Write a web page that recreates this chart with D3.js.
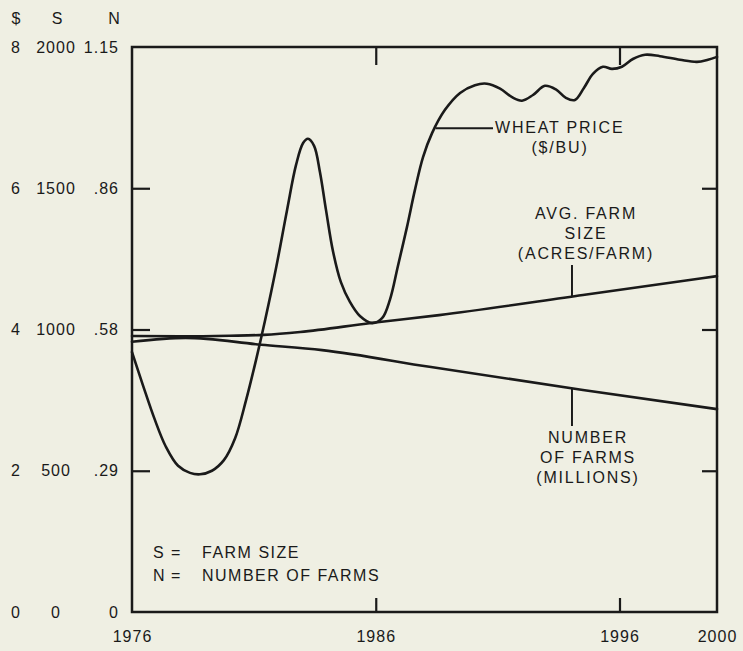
<!DOCTYPE html>
<html>
<head>
<meta charset="utf-8">
<script src="https://cdn.jsdelivr.net/npm/d3@7/dist/d3.min.js"></script>
<style>
  body { margin: 0; background: #efefe3; }
  svg { display: block; }
  text { font-family: "Liberation Sans", Arial, sans-serif; fill: #1a1a1a; }
</style>
</head>
<body>
<svg id="chart" width="743" height="651"></svg>
<script>
// DATA

// wheat price, $/bu
const wheatYears = [1976, 1976.45, 1976.94, 1977.39, 1977.89, 1978.38, 1978.79, 1979.28, 1979.77, 1980.23,
  1980.68, 1981.09, 1981.46, 1981.91, 1982.36, 1982.73, 1983.02, 1983.22, 1983.47, 1983.71,
  1983.96, 1984.25, 1984.57, 1984.94, 1985.35, 1985.85, 1986.26, 1986.58, 1986.91, 1987.28,
  1987.61, 1987.94, 1988.31, 1988.84, 1989.46, 1990.07, 1990.56, 1991.1, 1991.59, 1992.0,
  1992.45, 1992.94, 1993.39, 1993.8, 1994.17, 1994.54, 1994.91, 1995.32, 1995.69, 1996.1,
  1996.55, 1997.05, 1997.66, 1998.48, 1999.18, 1999.63, 2000];
const wheatPrice = [3.68, 3.21, 2.72, 2.34, 2.07, 1.97, 1.95, 2.0, 2.15, 2.46,
  3.0, 3.57, 4.13, 4.87, 5.69, 6.33, 6.64, 6.7, 6.6, 6.23,
  5.69, 5.1, 4.67, 4.39, 4.19, 4.09, 4.16, 4.42, 4.9, 5.45,
  5.98, 6.44, 6.78, 7.11, 7.35, 7.46, 7.48, 7.41, 7.29, 7.24,
  7.32, 7.45, 7.4, 7.28, 7.25, 7.42, 7.62, 7.72, 7.69, 7.72,
  7.83, 7.89, 7.87, 7.82, 7.79, 7.82, 7.86];

// average farm size, acres/farm
const sizeYears = [1976, 1978, 1980, 1981.4, 1982.9, 1985.8, 1988.6, 1994.5, 2000];
const farmSize = [977, 976, 978, 981, 991, 1023, 1051, 1122, 1189];

// number of farms, millions
const farmYears = [1976, 1978.2, 1981.3, 1983.8, 1988.2, 1994.5, 2000];
const farmCount = [0.55, 0.558, 0.544, 0.533, 0.499, 0.452, 0.413];

// ticks
const yearLabels = [1976, 1986, 1996, 2000];
const innerYearTicks = [1986, 1996];
const dollarTicks = [0, 2, 4, 6, 8];
const sizeTicks = [0, 500, 1000, 1500, 2000];
const countTicks = [0, 0.2875, 0.575, 0.8625, 1.15];
const countLabels = ["0", ".29", ".58", ".86", "1.15"];
const innerValueTicks = [2, 4, 6];

// LAYOUT
const margin = { top: 47, right: 26, bottom: 39, left: 132 },
  width = 743,
  height = 651,
  ink = "#1a1a1a";

const svg = d3.select("#chart");

// SCALES
const x = d3.scaleLinear().domain([1976, 2000]).range([margin.left, width - margin.right]);
const yDollar = d3.scaleLinear().domain([0, 8]).range([height - margin.bottom, margin.top]);
const ySize = d3.scaleLinear().domain([0, 2000]).range([height - margin.bottom, margin.top]);
const yCount = d3.scaleLinear().domain([0, 1.15]).range([height - margin.bottom, margin.top]);

const bottom = height - margin.bottom,
  right = width - margin.right;

// frame
svg.append("rect")
  .attr("x", margin.left)
  .attr("y", margin.top)
  .attr("width", right - margin.left)
  .attr("height", bottom - margin.top)
  .attr("fill", "none")
  .attr("stroke", ink)
  .attr("stroke-width", 2.5);

// small inward ticks on all four sides
function innerTicks(axis, tx, ty) {
  const g = svg.append("g")
    .attr("transform", `translate(${tx},${ty})`)
    .call(axis.tickFormat(""));
  g.select(".domain").remove();
  g.selectAll("line").attr("stroke", ink).attr("stroke-width", 2.2);
}
innerTicks(d3.axisBottom(x).tickValues(innerYearTicks).tickSize(-14), 0, bottom);
innerTicks(d3.axisTop(x).tickValues(innerYearTicks).tickSize(-18), 0, margin.top);
innerTicks(d3.axisLeft(yDollar).tickValues(innerValueTicks).tickSize(-18), margin.left, 0);
innerTicks(d3.axisRight(yDollar).tickValues(innerValueTicks).tickSize(-15), right, 0);

// tick label columns
function labelAxis(axis, tx, ty, anchor) {
  const g = svg.append("g")
    .attr("transform", `translate(${tx},${ty})`)
    .call(axis.tickSize(0))
    .attr("font-family", null)
    .attr("font-size", null);
  g.select(".domain").remove();
  g.selectAll("text")
    .attr("fill", ink)
    .style("font-size", "16px")
    .style("letter-spacing", "1px");
  if (anchor) g.selectAll("text").attr("x", 0).attr("text-anchor", anchor);
  return g;
}
labelAxis(d3.axisBottom(x).tickValues(yearLabels).tickFormat(d3.format("d")).tickPadding(19), 0, bottom);
labelAxis(d3.axisLeft(yDollar).tickValues(dollarTicks), 16, 0, "middle");
labelAxis(d3.axisLeft(ySize).tickValues(sizeTicks).tickFormat(d3.format("d")), 56, 0, "middle");
labelAxis(d3.axisLeft(yCount).tickValues(countTicks).tickFormat((d, i) => countLabels[i]), 119, 0, "end");

// column headers
svg.append("g")
  .selectAll("text")
  .data([["$", 16], ["S", 57], ["N", 114]])
  .join("text")
  .attr("x", (d) => d[1])
  .attr("y", 18)
  .attr("dy", "0.35em")
  .attr("text-anchor", "middle")
  .style("font-size", "16px")
  .text((d) => d[0]);

// LINES
const lineStyle = (p) => p.attr("fill", "none").attr("stroke", ink).attr("stroke-width", 2.6)
  .attr("stroke-linejoin", "round").attr("stroke-linecap", "round");

svg.append("path")
  .datum(d3.zip(wheatYears, wheatPrice))
  .attr("d", d3.line().x((d) => x(d[0])).y((d) => yDollar(d[1])).curve(d3.curveCatmullRom.alpha(0.5)))
  .call(lineStyle);

svg.append("path")
  .datum(d3.zip(sizeYears, farmSize))
  .attr("d", d3.line().x((d) => x(d[0])).y((d) => ySize(d[1])).curve(d3.curveMonotoneX))
  .call(lineStyle);

svg.append("path")
  .datum(d3.zip(farmYears, farmCount))
  .attr("d", d3.line().x((d) => x(d[0])).y((d) => yCount(d[1])).curve(d3.curveMonotoneX))
  .call(lineStyle);

// ANNOTATIONS
function note(lines, cx, y0, anchor) {
  svg.append("g")
    .selectAll("text")
    .data(lines)
    .join("text")
    .attr("x", cx)
    .attr("y", (d, i) => y0 + i * 20)
    .attr("dy", "0.35em")
    .attr("text-anchor", anchor)
    .style("font-size", "16px")
    .style("letter-spacing", "1.8px")
    .text((d) => d);
}
function leader(x1, y1, x2, y2) {
  svg.append("line")
    .attr("x1", x1).attr("y1", y1).attr("x2", x2).attr("y2", y2)
    .attr("stroke", ink).attr("stroke-width", 2);
}

// wheat price
leader(x(1988.45), yDollar(6.85), 493, yDollar(6.85));
note(["WHEAT PRICE"], 495, 127, "start");
note(["($/BU)"], 560, 147, "middle");

// farm size
leader(x(1994.05), ySize(1117), x(1994.05), 265);
note(["AVG. FARM", "SIZE", "(ACRES/FARM)"], 586, 213, "middle");

// number of farms
leader(x(1994.05), yCount(0.455), x(1994.05), 426);
note(["NUMBER", "OF FARMS", "(MILLIONS)"], 588, 437, "middle");

// legend
const legendRows = [["S", "FARM SIZE"], ["N", "NUMBER OF FARMS"]];
const legend = svg.append("g")
  .selectAll("g")
  .data(legendRows)
  .join("g")
  .attr("transform", (d, i) => `translate(0,${552 + i * 23})`)
  .style("font-size", "16px")
  .style("letter-spacing", "1.5px");
legend.append("text").attr("x", 153).attr("dy", "0.35em").text((d) => d[0]);
legend.append("text").attr("x", 171).attr("dy", "0.35em").text("=");
legend.append("text").attr("x", 202).attr("dy", "0.35em").text((d) => d[1]);
</script>
</body>
</html>
